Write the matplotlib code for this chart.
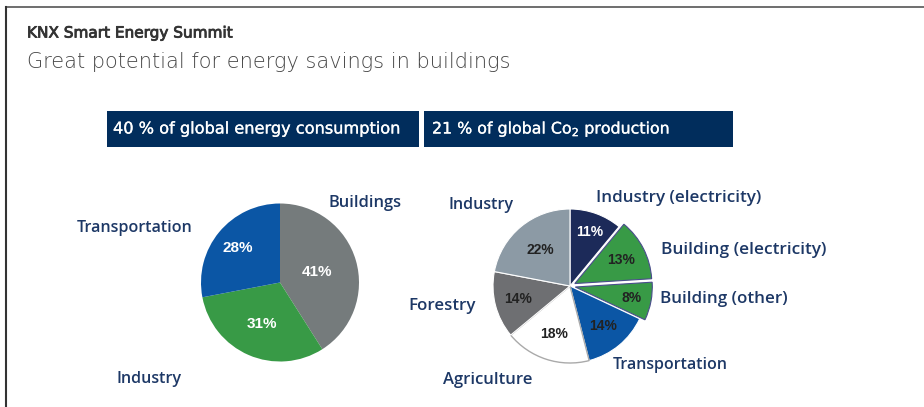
import matplotlib
matplotlib.use("Agg")
import matplotlib.pyplot as plt
import matplotlib.patheffects as pe
from matplotlib.lines import Line2D
from matplotlib.patches import Rectangle
import numpy as np

# ---------------- data ----------------
left_labels = ["Buildings", "Industry", "Transportation"]
left_values = [41, 31, 28]

right_labels = ["Industry (electricity)", "Building (electricity)", "Building (other)",
                "Transportation", "Agriculture", "Forestry", "Industry"]
right_values = [11, 13, 8, 14, 18, 14, 22]

title = "KNX Smart Energy Summit"
subtitle = "Great potential for energy savings in buildings"
header_left = "40 % of global energy consumption"
header_right = "21 % of global Co$\\mathregular{_2}$ production"

# ---------------- style ----------------
W, H = 924, 407
NAVY = "#1d3866"
BOX = "#012d5c"
left_colors = ["#757b7c", "#389a46", "#0b56a5"]
right_colors = ["#1c2a59", "#389a46", "#389a46", "#0b56a5", "#ffffff", "#6e6f72", "#8c9aa5"]
right_explode = [0, 0.07, 0.07, 0, 0, 0, 0]
right_pct_color = ["white", "#222222", "#222222", "#222222", "#222222", "#222222", "#222222"]
left_pct_dist = [0.49, 0.57, 0.69]
right_pct_dist = [0.75, 0.68, 0.75, 0.67, 0.65, 0.69, 0.60]

LABEL_FONT = ["Open Sans", "DejaVu Sans"]
WIDE_FONT = ["DejaVu Sans"]

fig = plt.figure(figsize=(W / 100, H / 100), dpi=100)
fig.patch.set_facecolor("white")
renderer = fig.canvas.get_renderer()


def fx(x):
    return x / W


def fy(y):
    return 1 - y / H


def fit_text(x_left, x_right, y, s, **kw):
    t = fig.text(fx(x_left), fy(y), s, ha="left", va="center", **kw)
    w = t.get_window_extent(renderer).width
    t.set_fontsize(t.get_fontsize() * (x_right - x_left) / w)
    return t


def pie_axes(cx, cy, r):
    ax = fig.add_axes([fx(cx - r), fy(cy + r), 2 * r / W, 2 * r / H])
    ax.set_xlim(-1, 1)
    ax.set_ylim(-1, 1)
    ax.set_aspect("equal")
    ax.axis("off")
    return ax


# frame lines
fig.add_artist(Line2D([fx(6), 1.0], [fy(7), fy(7)], color="#555555", lw=1.2))
fig.add_artist(Line2D([fx(6), fx(6)], [fy(7), 0.0], color="#333333", lw=1.5))

# titles
fit_text(27, 233, 33, title, fontsize=11, color="#333333", family=WIDE_FONT,
         path_effects=[pe.Stroke(linewidth=0.6, foreground="#333333"), pe.Normal()])
fit_text(27, 508, 62, subtitle, fontsize=13, color="#474747", family=WIDE_FONT,
         weight="light")

# header boxes
for (x0, x1), txt, (t0, t1) in [((107, 419), header_left, (113, 401)),
                                ((424, 733), header_right, (432, 670))]:
    fig.add_artist(Rectangle((fx(x0), fy(147)), (x1 - x0) / W, 36 / H,
                             transform=fig.transFigure, facecolor=BOX, edgecolor="none"))
    fit_text(t0, t1, 129, txt, fontsize=11, color="white", family=WIDE_FONT,
             path_effects=[pe.Stroke(linewidth=0.2, foreground="white"), pe.Normal()])

# ---------------- left pie ----------------
axL = pie_axes(280, 282.5, 79)
wedges, _ = axL.pie(left_values, colors=left_colors, startangle=90, counterclock=False,
                    radius=1, wedgeprops=dict(linewidth=0))
axL.set_xlim(-1, 1)
axL.set_ylim(-1, 1)
for w, v, d in zip(wedges, left_values, left_pct_dist):
    w.set_clip_on(False)
    a = np.deg2rad((w.theta1 + w.theta2) / 2)
    axL.text(d * np.cos(a), d * np.sin(a), f"{v}%", ha="center", va="center",
             color="white", fontsize=11, weight="bold", family=["Liberation Sans", "DejaVu Sans"])

left_label_pos = [(329, 402, 203), (116, 181, 379), (77, 193, 228)]
for lab, (x0, x1, y) in zip(left_labels, left_label_pos):
    fit_text(x0, x1, y, lab, fontsize=11, color=NAVY, family=LABEL_FONT, weight="semibold")

# ---------------- right pie ----------------
axR = pie_axes(570, 286, 77)
wedges, _ = axR.pie(right_values, colors=right_colors, startangle=90, counterclock=False,
                    radius=1, explode=right_explode,
                    wedgeprops=dict(linewidth=0.8, edgecolor="white"))
axR.set_xlim(-1, 1)
axR.set_ylim(-1, 1)
for i, (w, v, d, c) in enumerate(zip(wedges, right_values, right_pct_dist, right_pct_color)):
    w.set_clip_on(False)
    if right_explode[i] > 0:
        w.set_edgecolor("#4a4d8c")
        w.set_linewidth(0.8)
        w.set_zorder(3)
    if right_colors[i] == "#ffffff":
        w.set_edgecolor("#aaaaaa")
        w.set_linewidth(1.0)
    a = np.deg2rad((w.theta1 + w.theta2) / 2)
    cx, cy = w.center
    axR.text(cx + d * np.cos(a), cy + d * np.sin(a), f"{v}%", ha="center", va="center",
             color=c, fontsize=10, weight="bold", family=["Liberation Sans", "DejaVu Sans"],
             zorder=4)

right_label_pos = [(596, 760, 198), (661, 825, 250), (660, 787, 299),
                   (613, 728, 365), (443, 532, 380), (408, 475, 306),
                   (448, 513, 205)]
for lab, (x0, x1, y) in zip(right_labels, right_label_pos):
    fit_text(x0, x1, y, lab, fontsize=11, color=NAVY, family=LABEL_FONT, weight="semibold")

fig.savefig("out.png", dpi=100, facecolor="white")
